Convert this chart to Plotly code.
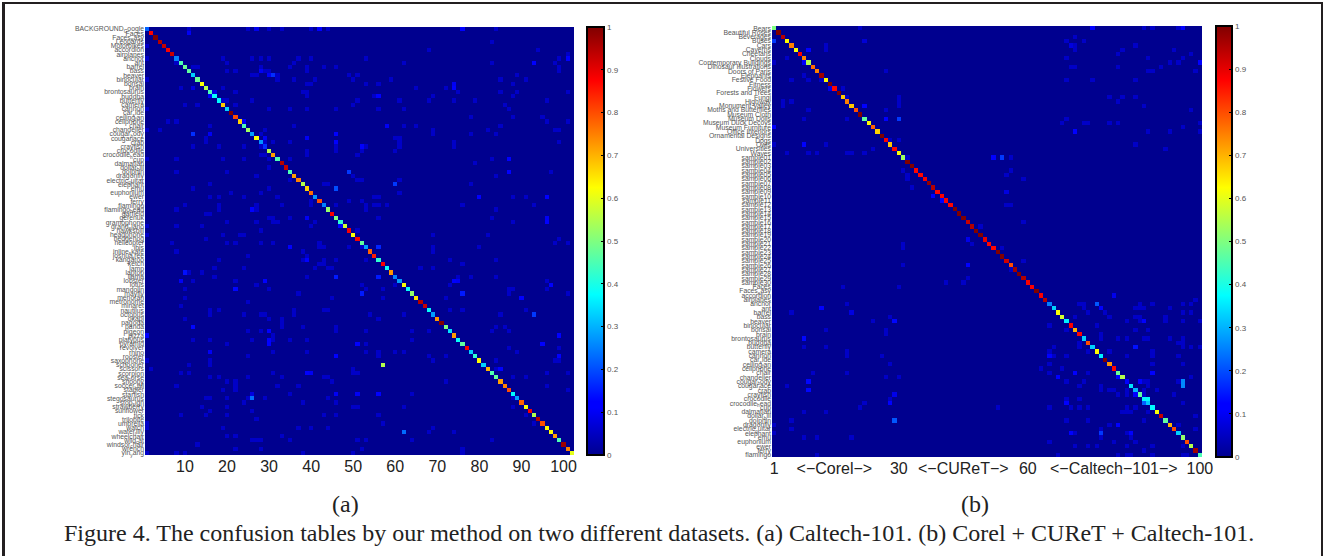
import re
import numpy as np
import plotly.graph_objects as go

# ---------- data: panel (a) Caltech-101 ----------
labels_a = """BACKGROUND_Google|Faces|Faces_easy|Leopards|Motorbikes|accordion|airplanes|anchor|ant|barrel|bass|beaver|binocular|bonsai|brain|brontosaurus|buddha|butterfly|camera|cannon|car_side|ceiling_fan|cellphone|chair|chandelier|cougar_body|cougar_face|crab|crayfish|crocodile|crocodile_head|cup|dalmatian|dollar_bill|dolphin|dragonfly|electric_guitar|elephant|emu|euphonium|ewer|ferry|flamingo|flamingo_head|garfield|gerenuk|gramophone|grand_piano|hawksbill|headphone|hedgehog|helicopter|ibis|inline_skate|joshua_tree|kangaroo|ketch|lamp|laptop|llama|lobster|lotus|mandolin|mayfly|menorah|metronome|minaret|nautilus|octopus|okapi|pagoda|panda|pigeon|pizza|platypus|pyramid|revolver|rhino|rooster|saxophone|schooner|scissors|scorpion|sea_horse|snoopy|soccer_ball|stapler|starfish|stegosaurus|stop_sign|strawberry|sunflower|tick|trilobite|umbrella|watch|water_lilly|wheelchair|wild_cat|windsor_chair|wrench|yin_yang""".split("|")

diag_a = [.22,.88,1.0,.95,.93,.88,.93,.25,.45,.48,.47,.33,.48,.62,.55,.45,.38,.37,.68,.33,
          1.0,.8,.67,.45,.53,.28,.62,.27,.17,.55,.72,.45,.95,.93,.45,.72,.75,.55,.67,.77,
          .27,.8,.25,.52,.88,.5,.42,.58,.88,.62,.88,.47,.28,.78,.85,.42,.88,.38,.73,.25,
          .28,.62,.38,.52,.65,.95,.93,.38,.28,.73,1.0,.5,.35,.72,.38,.47,.88,.33,.42,.63,
          .33,.7,.45,.47,.72,.75,.8,.37,.28,.78,.62,.88,.55,.95,.8,.63,.62,.72,.45,.97,.75,.6]

# off-diagonal confusions: row -> [col, ...] at weak level, and strong ones listed separately
weak_a = {
 1:[11,25,30,33,40,44,84],2:[],5:[1],6:[68,94],7:[101],4:[83],
 8:[1,19,26,28,30,37,40,53,99],9:[8,20,36,62,83,98],10:[12,13,28,35,39,43,46,99],
 11:[20,22,29,30,39,99],12:[26,27,32,49,51,89],13:[1,32,36,41,50,59,85,91],14:[39,40,53,56,74,88],
 15:[9,19,65,72],16:[17,22,38,39,75,85,89,101],17:[39,55,69,88],18:[19,20,26,51,61,68,74,79,96],
 19:[10,13,22,50,86],20:[1,30,35,39,46,56,62,87],22:[78,88,95],23:[6,8,96,101],24:[16,36,62,65,85],
 25:[1,4,29,69,82,98,99],26:[28,69,78,84],27:[15,60,61],28:[15,29,31,35,61,74,99],
 29:[12,18,24,28,29,53,61,74,46],30:[46,52,60,39],31:[28,29,39,51],32:[1,8,19,24,30,35,83],33:[79],34:[30],
 35:[8,20,97],36:[27,50,84],37:[35,51,52,61],38:[16,43,44,78],39:[12,30],40:[21,28,61],
 41:[16,18,24,32,55,56,88,91],42:[40,49,52],43:[10,18,27,33,40,46,53,55,56,58,76,93],44:[8,18,27,53,84],
 45:[15,16],46:[30,31,35,56,83],47:[20,27,31,32,41,88],48:[1,8,14,40],49:[28,51],50:[1,19,23,24,69,82],
 51:[15,99],52:[7,20,22,28,31,42,98,101],53:[42,43,49,52,69,80],54:[8,38,38,69],55:[25,39,39],
 56:[18,38,43,46,53,73,84],57:[42,43,76],58:[17,24,41,44,45,66,69],59:[11,14],60:[17,39,39,75,78,84],
 61:[12,22,96],62:[27,52,60,73],63:[10,30,53,57,87,88,96],64:[37,87,101],65:[10,45,57,72],66:[25],67:[9],
 68:[16,18,36,43,44,73,76,91],69:[16,24,28,29,36,54,62,85],70:[10,30,33,56],71:[33],72:[33,38,46,84,86],
 73:[25,28,46,53,64,68,83,87],74:[31],75:[12,16,26,31,35,39,64],76:[20,53],77:[87,99],
 78:[31,39,53,56,60,62,89],79:[25,56,68,72],80:[1,16,69,84,98,99],81:[11,16],82:[2,50,84],
 83:[9,11,31,50,51],84:[16,18,25,33,43,44,88,91],85:[20,22,45,72],86:[8,22,32,37,37,96],87:[19,22,101],
 88:[35,64],89:[15,16,20,25,29,44,88],90:[24,38,46],91:[14,20,50,51,62,88],92:[16,26],
 93:[9,15,20,43,46,56,91],94:[27],95:[1,57,93],96:[1,19,37,37,40,44,69],97:[68,74],98:[20,22,33],
 99:[26,27,28,35,51,53,64,83],100:[13],101:[22,28,52,76],102:[1,8,10,38,38,50,76],
}
strong_a = [(1,27,.09),(1,42,.11),(1,76,.11),(2,11,.1),(8,101,.12),(9,93,.11),(11,28,.1),(12,30,.1),(12,31,.17),
 (14,74,.1),(15,12,.08),(15,74,.11),(16,17,.08),(17,16,.1),(17,56,.12),(23,24,.1),(24,58,.1),(26,12,.17),
 (26,16,.1),(26,46,.11),(27,29,.1),(27,39,.1),(28,46,.11),(29,52,.12),(35,49,.18),(35,87,.11),
 (32,87,.11),(38,60,.18),(39,46,.2),(41,80,.11),(41,96,.11),(44,26,.11),(46,39,.1),(46,96,.1),(47,96,.11),
 (48,47,.13),(53,35,.12),(53,56,.16),(53,52,.06),(56,39,.11),(59,10,.14),(61,9,.1),(61,29,.11),
 (61,74,.11),(61,75,.1),(62,97,.11),(63,22,.13),(64,52,.15),(64,76,.15),(65,90,.11),(69,93,.18),
 (72,12,.13),(73,30,.11),(74,1,.11),(74,99,.11),(75,30,.11),(76,30,.11),(76,51,.11),(76,95,.11),
 (78,16,.1),(79,46,.11),(79,99,.11),(81,57,.55),(82,85,.11),(83,39,.11),(83,40,.1),(83,96,.06),
 (88,46,.1),(88,51,.1),(88,56,.12),(88,26,.08),(89,26,.23),(97,62,.23),(60,46,.15),(60,56,.15),(83,101,.05)]

# ---------- data: panel (b) Corel + CUReT + Caltech-101 ----------
labels_corel = """Bears|Beautiful Roses|Beverages|Buses|Cars|Caverns|Cheetahs|Clouds|Contemporary Buildings|Dinosaur Illustrations|Doors of Paris|Elephants|Festive Food|Fitness|Flowers|Forests and Trees|Fungi|Highway|Monument Valley|Moths and Butterflies|Museum Cloth|Museum Dolls|Museum Duck Decoys|Museum Furniture|Office Interiors|Ornamental Designs|Dogs|Owls|Universities|Waves""".split("|")
labels_curet = ["sample%02d" % i for i in range(1, 31)]
labels_caltech = """Faces|Faces_easy|accordion|airplanes|anchor|ant|barrel|bass|beaver|binocular|bonsai|brain|brontosaurus|buddha|butterfly|camera|cannon|car_side|ceiling_fan|cellphone|chair|chandelier|cougar_body|cougar_face|crab|crayfish|crocodile|crocodile_head|cup|dalmatian|dollar_bill|dolphin|dragonfly|electric_guitar|elephant|emu|euphonium|ewer|ferry|flamingo""".split("|")
labels_b = labels_corel + labels_curet + labels_caltech

diag_b = [.5,1.0,.95,.63,.75,.62,.88,.75,.55,.77,.75,.97,.63,1.0,.87,1.0,.68,.75,.68,.8,
          1.0,.47,.63,.78,.67,1.0,.88,.68,.87,.62,.53,1.0,1.0,.87,.87,.88,.98,.95,.87,.88,
          .88,.87,1.0,1.0,1.0,.93,.95,1.0,1.0,.9,.87,.87,1.0,1.0,.92,.8,.97,1.0,.95,.88,
          .88,1.0,.88,.95,.25,.33,.62,.58,.36,.88,.7,.87,.33,.8,.33,.63,.36,1.0,.73,.87,
          .48,.55,.12,.35,.3,.47,.37,.32,.37,.62,.93,.47,.7,.8,.33,.52,.8,.55,.97,.45]

weak_b = {
 1:[21,87,89,95],3:[71],4:[22,69,73],5:[13,70,71,85],6:[13,71,82,94],7:[81,98],8:[4,69,88,96],
 9:[1,93,95],10:[70,71,81,91],11:[27,88,89,99],12:[8],13:[5,9,12,69,75,85],15:[17],17:[18,30,79,82,85],
 18:[3,5,30,81],19:[3,30,87],20:[9,27,98],22:[8,18,69],23:[68,73,74,79,81,100],24:[96],25:[88,93,100],
 27:[28,30],28:[1,13,85],29:[24,92],30:[4,9,11,18,19,22],31:[32,56],34:[31,56],35:[32,55],36:[32,59],
 38:[33],39:[55],42:[55,56],46:[59],47:[49],50:[46],51:[31,47],52:[31,54],55:[59],56:[31],57:[56],
 59:[46],60:[41,45],61:[17,30],64:[99],65:[18,72,73,86,89,96,98],66:[73,85,86,87,93],67:[5,19,74,78,96,98],
 68:[28,71,79,85,86,92],69:[24,83,86,92,96,100],70:[65,76],71:[13,27,69,85,88],72:[27,77],
 73:[8,77,81,83,87,88,93,96],74:[72,95,96],75:[8,13,66,72,96,98,100],76:[18,65,74,79,89],
 77:[18,26,66,69,83,89,95],79:[28,65,89,96],80:[63,68],81:[10,18,65,74],82:[27,30,98],83:[69,73,87,88,95],
 84:[4,72,77,88],85:[77,79,80,83,87,90],86:[81,83,87,94],87:[28,69,72],88:[22,96],89:[21,53,65,70,72,74,83,85],
 90:[8,13,82,83,84,88],91:[99],92:[5,69,74,87],93:[1,79,95],94:[5,77,99],95:[1,71,83],96:[8,11,19,77,84],
 97:[65,80,85],98:[71,74,76,83,89,96],99:[87],100:[11,67,81,83,84,89,96,97],
}
strong_b = [(1,75,.11),(1,96,.11),(4,1,.18),(4,22,.07),(5,70,.08),(6,9,.11),(9,8,.11),(9,100,.11),(15,14,.09),
 (19,22,.11),(22,27,.11),(22,30,.18),(24,1,.11),(25,71,.11),(28,8,.11),(31,52,.11),(31,54,.18),(39,55,.08),
 (40,38,.11),(41,40,.11),(50,46,.09),(56,46,.11),(63,80,.09),(65,76,.21),(66,77,.11),(66,12,.11),(67,19,.08),
 (69,29,.13),(69,87,.11),(73,8,.13),(75,85,.14),(77,65,.11),(81,71,.11),(81,89,.11),(82,67,.11),
 (82,81,.11),(83,9,.13),(85,9,.13),(83,86,.11),(83,96,.26),(84,96,.26),(86,29,.09),(86,85,.11),
 (87,88,.37),(88,28,.11),(88,69,.11),(88,87,.22),(92,29,.21),(93,81,.11),(95,70,.11),(95,77,.18),(95,84,.11)]

xticks_a = [10, 20, 30, 40, 50, 60, 70, 80, 90, 100]
xticks_b = [1, 15, 30, 45, 60, 80, 100]
xticklabels_b = ["1", "&lt;\u2212Corel\u2212&gt;", "30", "&lt;\u2212CUReT\u2212&gt;", "60",
                 "&lt;\u2212Caltech\u2212101\u2212&gt;", "100"]
cbar_ticks = [0, .1, .2, .3, .4, .5, .6, .7, .8, .9, 1]
cbar_labels = ["0", "0.1", "0.2", "0.3", "0.4", "0.5", "0.6", "0.7", "0.8", "0.9", "1"]
caption = "Figure 4. The confusion tables by our method on two different datasets. (a) Caltech-101. (b) Corel + CUReT + Caltech-101."
weak_level = .055

# ---------- styling / layout ----------
W, H = 1325, 556
jet = [[0, "rgb(0,0,143)"], [.11, "rgb(0,0,255)"], [.125, "rgb(0,0,255)"], [.375, "rgb(0,255,255)"],
       [.625, "rgb(255,255,0)"], [.875, "rgb(255,0,0)"], [1, "rgb(128,0,0)"]]

def build(diag, weak, strong):
    n = len(diag)
    z = np.zeros((n, n))
    for r, cols in weak.items():
        for c in cols:
            if r != c and c <= n:
                z[r - 1, c - 1] = weak_level
    for r, c, v in strong:
        if r != c and c <= n:
            z[r - 1, c - 1] = v
    for i, v in enumerate(diag):
        z[i, i] = v
    return z

def tex(s):
    return re.sub(r"_(.)", r"<sub>\1</sub>", s)

panels = [
    dict(z=build(diag_a, weak_a, strong_a), labels=labels_a, x0=145, x1=574, y0=27, y1=455,
         cb0=587, cb1=604, xt=xticks_a, xl=[str(v) for v in xticks_a], name="", lab="(a)", labx=346),
    dict(z=build(diag_b, weak_b, strong_b), labels=labels_b, x0=772, x1=1202, y0=26, y1=457,
         cb0=1216, cb1=1232, xt=xticks_b, xl=xticklabels_b, name="2", lab="(b)", labx=975),
]

fig = go.Figure()
shapes, annos = [], []
for p in panels:
    n = len(p["labels"])
    idx = list(range(1, n + 1))
    fig.add_trace(go.Heatmap(
        z=p["z"], x=idx, y=idx, zmin=0, zmax=1, colorscale=jet, xaxis="x" + p["name"], yaxis="y" + p["name"],
        colorbar=dict(x=p["cb0"] / W, xanchor="left", y=1 - p["y1"] / H, yanchor="bottom",
                      len=(p["y1"] - p["y0"]) / H, lenmode="fraction", thickness=p["cb1"] - p["cb0"],
                      thicknessmode="pixels", xpad=0, ypad=0, outlinecolor="black", outlinewidth=2,
                      tickmode="array", tickvals=cbar_ticks, ticktext=cbar_labels, ticks="inside",
                      ticklen=4, tickwidth=1, tickcolor="black",
                      tickfont=dict(family="Liberation Sans", size=8, color="#555"))))
    ax = dict(domain=[p["x0"] / W, p["x1"] / W], anchor="y" + p["name"], range=[.5, n + .5],
              tickmode="array", tickvals=p["xt"], ticktext=p["xl"], ticks="", showgrid=False, zeroline=False,
              showline=False, tickfont=dict(family="Liberation Sans", size=16, color="#222"))
    ay = dict(domain=[1 - p["y1"] / H, 1 - p["y0"] / H], anchor="x" + p["name"], range=[n + .5, .5],
              tickmode="array", tickvals=idx, ticktext=[tex(s) for s in p["labels"]], ticks="", showgrid=False,
              zeroline=False, showline=False, tickfont=dict(family="Liberation Sans", size=6.8, color="#555"))
    fig.update_layout({"xaxis" + p["name"]: ax, "yaxis" + p["name"]: ay})
    # right-hand tick notches of the colour bar
    for t in cbar_ticks[1:-1]:
        yy = 1 - (p["y1"] - t * (p["y1"] - p["y0"])) / H
        shapes.append(dict(type="line", xref="paper", yref="paper", x0=p["cb0"] / W, x1=(p["cb0"] + 4) / W,
                           y0=yy, y1=yy, line=dict(color="black", width=1)))
    annos.append(dict(text=p["lab"], x=p["labx"] / W, y=1 - 504 / H, xref="paper", yref="paper", showarrow=False,
                      font=dict(family="Liberation Serif", size=24, color="#222"), xanchor="center", yanchor="middle"))

annos.append(dict(text=caption, x=659 / W, y=1 - 533 / H, xref="paper", yref="paper", showarrow=False,
                  font=dict(family="Liberation Serif", size=24, color="#222"), xanchor="center", yanchor="middle"))

# page frame
for x0, y0, x1, y1 in [(3.5, 3, 3.5, H), (1322, 3, 1322, H), (2, 3, 1323, 3)]:
    shapes.append(dict(type="line", xref="paper", yref="paper", x0=x0 / W, x1=x1 / W, y0=1 - y0 / H, y1=1 - y1 / H,
                       line=dict(color="#231f20", width=3 if x0 == 3.5 else 2)))

fig.update_layout(width=W, height=H, margin=dict(l=0, r=0, t=0, b=0, autoexpand=False), paper_bgcolor="white",
                  plot_bgcolor="white", shapes=shapes, annotations=annos, showlegend=False)
fig.write_html("out.html", config={"displayModeBar": False},
               post_script="document.documentElement.style.overflow='hidden';document.body.style.margin='0';document.body.style.overflow='hidden';")
